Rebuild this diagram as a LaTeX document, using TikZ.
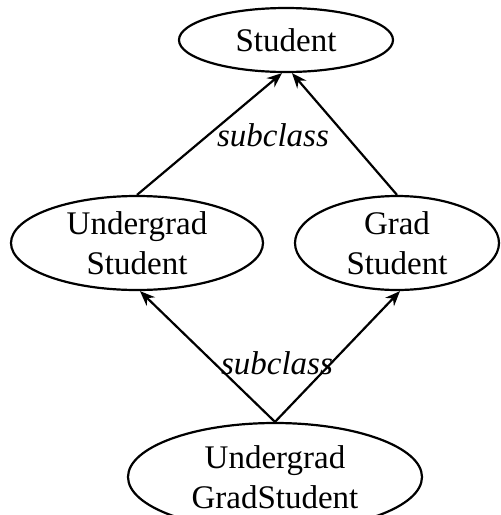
\documentclass[tikz,border=0pt]{standalone}
\usepackage{fontspec}
\setmainfont{Liberation Serif}
\usetikzlibrary{shapes.geometric,arrows.meta,calc}
\begin{document}
\begin{tikzpicture}[x=1pt,y=-1pt,
  cls/.style={ellipse,draw,line width=2.2pt,inner sep=0pt,align=center,
    font=\fontsize{33}{40}\selectfont},
  isa/.style={line width=2.2pt,-{Stealth[length=15pt,width=12pt]}},
  lbl/.style={font=\fontsize{33}{40}\selectfont\itshape,inner sep=0pt}]
\useasboundingbox (0,0) rectangle (501,515);
\node[cls,minimum width=214pt,minimum height=64pt] (stu) at (286,40) {Student};
\node[cls,minimum width=252pt,minimum height=94pt] (ug) at (137,243) {Undergrad\\Student};
\node[cls,minimum width=204pt,minimum height=94pt] (gr) at (397,243) {Grad\\Student};
\node[cls,minimum width=294pt,minimum height=108pt] (ugg) at (275,477) {Undergrad\\GradStudent};
\coordinate (stuL) at ($(stu.south)+(-4,0)$);
\coordinate (stuR) at ($(stu.south)+(6,0)$);
\coordinate (ugT) at ($(ug.south)+(3,0)$);
\coordinate (grT) at ($(gr.south)+(3,0)$);
\draw[isa] (ug.north) -- (stuL);
\draw[isa] (gr.north) -- (stuR);
\draw[isa] (ugg.north) -- (ugT);
\draw[isa] (ugg.north) -- (grT);
\node[lbl] (l1) at (273,135) {subclass};
\node[lbl] (l2) at (277,363) {subclass};
\end{tikzpicture}
\end{document}
